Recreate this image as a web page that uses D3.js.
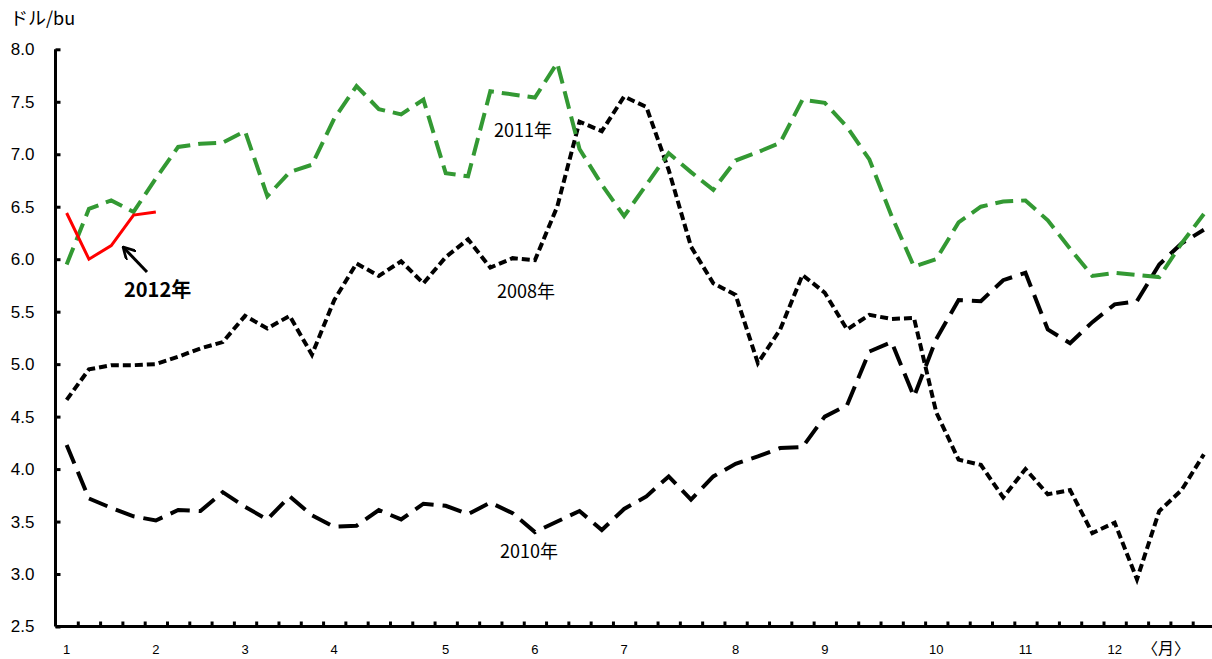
<!DOCTYPE html>
<html>
<head>
<meta charset="utf-8">
<script src="https://cdn.jsdelivr.net/npm/d3@7"></script>
<style>
  body { margin: 0; background: #fff; }
  svg { display: block; font-family: "Noto Sans CJK JP", "Liberation Sans", sans-serif; }
</style>
</head>
<body>
<svg id="chart" width="1212" height="659"></svg>
<script>
// weekly prices, Jan..Dec (52 weeks)
var monthLabels = ["1","2","3","4","5","6","7","8","9","10","11","12"];
var monthWeek = [0,4,8,12,17,21,25,30,34,39,43,47];
var yTicks = [2.5,3.0,3.5,4.0,4.5,5.0,5.5,6.0,6.5,7.0,7.5,8.0];

var y2008 = [4.66,4.95,4.99,4.99,5.00,5.07,5.15,5.21,5.46,5.34,5.46,5.09,
  5.61,5.96,5.84,5.98,5.77,6.02,6.19,5.92,6.01,5.99,6.50,7.31,7.22,7.55,
  7.45,6.85,6.12,5.77,5.66,5.01,5.33,5.85,5.68,5.33,5.47,5.43,5.44,4.54,
  4.09,4.04,3.73,4.00,3.76,3.80,3.39,3.49,2.95,3.60,3.80,4.14];
var y2010 = [4.23,3.72,3.63,3.55,3.51,3.61,3.60,3.78,3.64,3.52,3.74,3.56,
  3.45,3.46,3.61,3.52,3.67,3.65,3.57,3.68,3.58,3.40,3.50,3.60,3.42,3.62,
  3.74,3.93,3.71,3.93,4.05,4.12,4.20,4.21,4.50,4.61,5.12,5.21,4.69,5.24,
  5.61,5.60,5.80,5.87,5.33,5.20,5.40,5.57,5.60,5.95,6.15,6.28];
var y2011 = [5.95,6.48,6.56,6.45,6.77,7.07,7.10,7.11,7.22,6.60,6.83,6.90,
  7.34,7.65,7.43,7.38,7.52,6.82,6.79,7.60,7.57,7.54,7.87,7.05,6.71,6.41,
  6.71,7.01,6.83,6.66,6.94,7.02,7.11,7.52,7.49,7.26,6.95,6.41,5.93,6.00,
  6.35,6.50,6.55,6.56,6.37,6.10,5.84,5.87,5.85,5.83,6.15,6.43];
var y2012 = [6.44,6.00,6.13,6.42,6.45];

var svg = d3.select("#chart");
var x = d3.scaleLinear().domain([-0.5, 51.5]).range([55.5, 1215]);
var y = d3.scaleLinear().domain([2.5, 8]).range([626.5, 49.3]);

// x axis: ticks between weeks
var xAxis = svg.append("g")
  .attr("transform", "translate(0," + y(2.5) + ")")
  .call(d3.axisBottom(x).tickValues(d3.range(0.5, 51, 1)).tickSize(-5).tickFormat(""));
xAxis.select(".domain").attr("stroke-width", 3).attr("d", "M" + x(-0.5) + ",0H" + x(51.5));
xAxis.selectAll(".tick line").attr("stroke-width", 3);

svg.selectAll(".mlab")
  .data(monthLabels)
  .enter()
  .append("text")
  .attr("class", "mlab")
  .attr("x", function(d, i) { return x(monthWeek[i]); })
  .attr("y", 654)
  .attr("text-anchor", "middle")
  .attr("font-size", 13)
  .attr("font-family", "\"Liberation Sans\", sans-serif")
  .text(function(d) { return d; });

// y axis
var yAxis = svg.append("g")
  .attr("transform", "translate(" + x(-0.5) + ",0)")
  .call(d3.axisLeft(y).tickValues(yTicks).tickSize(-5).tickPadding(21).tickFormat(d3.format(".1f")));
yAxis.select(".domain").attr("stroke-width", 3).attr("d", "M0," + y(8) + "V" + y(2.5));
yAxis.selectAll(".tick line").attr("stroke-width", 3);
yAxis.selectAll(".tick text").attr("font-size", 17).attr("fill", "#000")
  .attr("font-family", "\"Liberation Sans\", sans-serif");

var line = d3.line()
  .x(function(d, i) { return x(i); })
  .y(function(d) { return y(d); });

svg.append("path").datum(y2010)
  .attr("d", line).attr("fill", "none")
  .attr("stroke", "#000").attr("stroke-width", 4)
  .attr("stroke-dasharray", "20,9");

svg.append("path").datum(y2008)
  .attr("d", line).attr("fill", "none")
  .attr("stroke", "#000").attr("stroke-width", 4)
  .attr("stroke-dasharray", "8,4");

svg.append("path").datum(y2011)
  .attr("d", line).attr("fill", "none")
  .attr("stroke", "#339933").attr("stroke-width", 4)
  .attr("stroke-dasharray", "18,8");

svg.append("path").datum(y2012)
  .attr("d", line).attr("fill", "none")
  .attr("stroke", "#ff0000").attr("stroke-width", 3);

// labels
svg.append("text").attr("x", 10).attr("y", 25).attr("font-size", 18).text("ドル/bu");
svg.append("text").attr("x", 494).attr("y", 137).attr("font-size", 18).text("2011年");
svg.append("text").attr("x", 497).attr("y", 298).attr("font-size", 18).text("2008年");
svg.append("text").attr("x", 500).attr("y", 558).attr("font-size", 18).text("2010年");
svg.append("text").attr("x", 124).attr("y", 297).attr("font-size", 20).attr("font-weight", "bold").text("2012年");
svg.append("text").attr("x", 1142).attr("y", 654).attr("font-size", 16).text("〈月〉");

// arrow to 2012 line
svg.append("defs").append("marker")
  .attr("id", "arr").attr("viewBox", "0 0 10 10")
  .attr("refX", 8).attr("refY", 5)
  .attr("markerWidth", 4.5).attr("markerHeight", 4.5)
  .attr("orient", "auto")
  .append("path").attr("d", "M0,0L9,5L0,10").attr("fill", "none").attr("stroke", "#000").attr("stroke-width", 2);
svg.append("line")
  .attr("x1", 147).attr("y1", 272).attr("x2", 124).attr("y2", 248)
  .attr("stroke", "#000").attr("stroke-width", 3)
  .attr("marker-end", "url(#arr)");
</script>
</body>
</html>
